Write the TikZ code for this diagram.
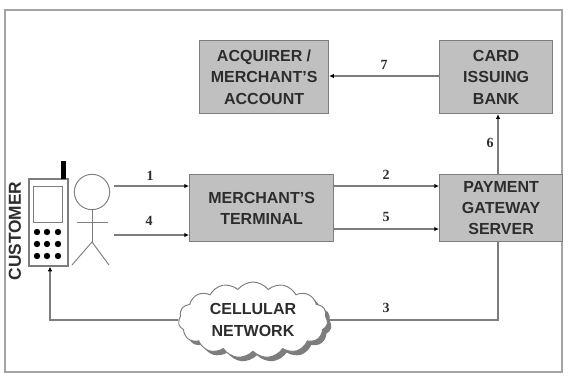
\documentclass[tikz,border=0pt]{standalone}
\usepackage{fontspec}
\setmainfont{Liberation Serif}
\setsansfont{Liberation Sans}
\usetikzlibrary{arrows.meta,shapes.symbols,shadows}
\definecolor{boxgray}{RGB}{192,192,192}
\definecolor{linegray}{RGB}{125,125,125}
\definecolor{inkgray}{RGB}{45,45,45}
\tikzset{
  blockbox/.style={draw=linegray,line width=0.9pt,fill=boxgray,anchor=north west,inner sep=0pt,align=center,text=inkgray,font=\sffamily\bfseries\fontsize{12}{16}\selectfont},
  flow/.style={draw=linegray,line width=0.9pt,-{Latex[length=3.5pt,width=3.4pt,color=black]}},
  plainflow/.style={draw=linegray,line width=0.9pt},
  steplabel/.style={inner sep=0pt,text=inkgray,font=\fontsize{10.5}{11}\selectfont\bfseries},
  phonekey/.style={circle,fill=black,inner sep=0pt,minimum size=4.8pt},
  stickline/.style={draw=linegray,line width=0.7pt}
}
\begin{document}
\begin{tikzpicture}[x=0.75pt,y=0.75pt,yscale=-1,xscale=1]
\useasboundingbox (0,0) rectangle (568,383);
%Frame
\draw [draw=linegray!70,line width=0.9pt] (5,10) rectangle (562,372);

%Boxes
\node (acquirer) [blockbox,minimum width=96.75pt,minimum height=54.75pt] at (199,40) {ACQUIRER /\\MERCHANT'S\\ACCOUNT};
\node (issuer) [blockbox,minimum width=84.75pt,minimum height=54.75pt] at (439,40) {CARD\\ISSUING\\BANK};
\node (terminal) [blockbox,minimum width=108pt,minimum height=50.25pt] at (189,174) {MERCHANT'S\\TERMINAL};
\node (gateway) [blockbox,minimum width=92.25pt,minimum height=50.25pt] at (439,174) {PAYMENT\\GATEWAY\\SERVER};

%Cloud
\node (cellular) [cloud,cloud puffs=15,cloud puff arc=105,aspect=2.1,draw=linegray,line width=0.7pt,fill=white,drop shadow={shadow xshift=3pt,shadow yshift=-3pt,fill=linegray,opacity=1},minimum width=112pt,minimum height=57pt,inner sep=0pt,align=center,text=inkgray,font=\sffamily\bfseries\fontsize{12}{16}\selectfont] at (253,320) {CELLULAR\\NETWORK};

%Phone
\node (phone) [draw=linegray,line width=1.2pt,fill=white,minimum width=29pt,minimum height=65pt,inner sep=0pt] at (48.5,222.5) {};
\node (antenna) [fill=black,anchor=south,minimum width=4pt,minimum height=13pt,inner sep=0pt] at (63.5,179) {};
\node (screen) [draw=linegray,line width=0.8pt,anchor=north west,minimum width=21.75pt,minimum height=27pt,inner sep=0pt] at (33,186) {};
\foreach \row/\ky in {1/232,2/244,3/256}
  \foreach \col/\kx in {1/37,2/47,3/58}
    \node (key\row\col) [phonekey] at (\kx,\ky) {};

%Person
\node (head) [circle,draw=linegray,line width=0.7pt,minimum size=26.5pt,inner sep=0pt] at (92,192) {};
\coordinate (hip) at (92,242);
\coordinate (armL) at (77,222);
\coordinate (armR) at (108,222);
\coordinate (footL) at (72,265);
\coordinate (footR) at (109,265);
\draw [stickline] (head.south) -- (hip);
\draw [stickline] (armL) -- (armR);
\draw [stickline] (footL) -- (hip) -- (footR);

%Straight Lines
\coordinate (in1) at (114,186);
\coordinate (in4) at (114,235);
\coordinate (out2) at (333,186);
\coordinate (out5) at (333,229);
\coordinate (out7) at (439,76);
\coordinate (down3) at (498,241);
\coordinate (up6) at (498,174);
\coordinate (netR) at (498,320);
\coordinate (netL) at (50,320);
\draw [flow] (in1) -- (terminal.west |- in1);
\draw [flow] (in4) -- (terminal.west |- in4);
\draw [flow] (out2) -- (gateway.west |- out2);
\draw [flow] (out5) -- (gateway.west |- out5);
\draw [flow] (out7) -- (acquirer.east |- out7);
\draw [flow] (up6) -- (up6 |- issuer.south);
\draw [plainflow] (down3) -- (netR) -- (cellular.east |- netR);
\draw [flow] (cellular.west |- netL) -- (netL) -- (netL |- phone.south);

% Text Node
\node (customer) [rotate=90,inner sep=0pt,text=inkgray,font=\sffamily\bfseries\fontsize{13}{14}\selectfont] at (15,231) {CUSTOMER};
\node (lab1) [steplabel] at (150,176) {1};
\node (lab2) [steplabel] at (386,175) {2};
\node (lab3) [steplabel] at (386,308) {3};
\node (lab4) [steplabel] at (149,221) {4};
\node (lab5) [steplabel] at (386,217) {5};
\node (lab6) [steplabel] at (490,143) {6};
\node (lab7) [steplabel] at (384,65) {7};
\end{tikzpicture}
\end{document}
